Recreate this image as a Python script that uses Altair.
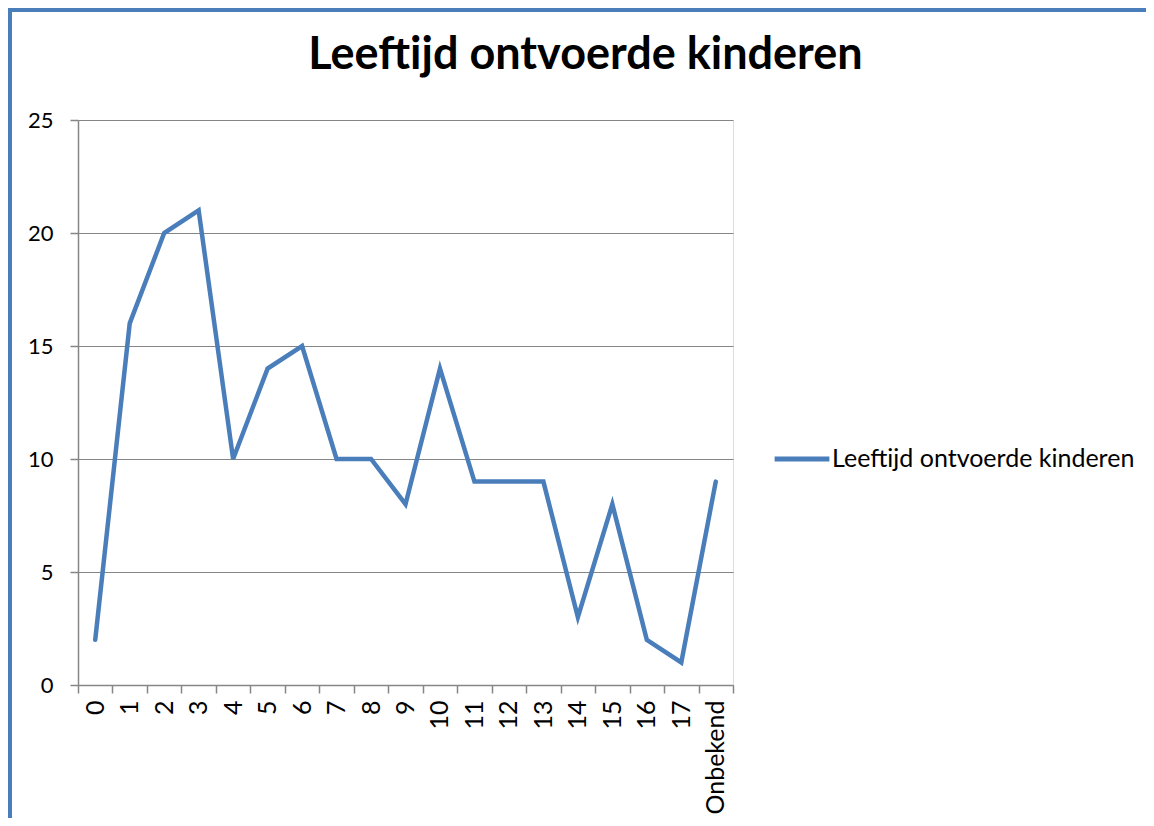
import altair as alt
import pandas as pd

categories = ["0", "1", "2", "3", "4", "5", "6", "7", "8", "9", "10", "11", "12", "13", "14", "15", "16", "17", "Onbekend"]
values = [2, 16, 20, 21, 10, 14, 15, 10, 10, 8, 14, 9, 9, 9, 3, 8, 2, 1, 9]
series_name = "Leeftijd ontvoerde kinderen"
title_text = "Leeftijd ontvoerde kinderen"
y_ticks = [0, 5, 10, 15, 20, 25]

df = pd.DataFrame({"cat": categories, "val": values, "series": [series_name] * len(categories)})

FONT = "Lato"
W, H = 655, 565
PL, PT, PR, PB = 70, 112, 413, 133
BLUE = "#4a7ebb"
GRAY = "#868686"

line = alt.Chart(df).mark_line(strokeWidth=4.5, strokeCap="round", strokeJoin="miter").encode(
    x=alt.X("cat:N", sort=categories, title=None,
            scale=alt.Scale(paddingInner=0, paddingOuter=0),
            axis=alt.Axis(labelAngle=270, labelAlign="right", labelBaseline="middle",
                          labelFontSize=25, labelFont=FONT, labelColor="black",
                          labelPadding=7, tickBand="extent", tickSize=8,
                          tickColor=GRAY, domainColor=GRAY, domainWidth=1.5, tickWidth=1.5,
                          grid=False, labelOverlap=False)),
    y=alt.Y("val:Q", title=None,
            scale=alt.Scale(domain=[0, 25], nice=False),
            axis=alt.Axis(values=y_ticks, labelFontSize=22, labelFont=FONT, labelColor="black",
                          labelPadding=17, tickSize=8, tickColor=GRAY, domainColor=GRAY,
                          domainWidth=1.5, tickWidth=1.5,
                          grid=True, gridColor=GRAY, gridWidth=1.2)),
    color=alt.Color("series:N", scale=alt.Scale(range=[BLUE]), title=None,
                    legend=alt.Legend(orient="none", legendX=694, legendY=309,
                                      symbolType="stroke", symbolSize=3000, symbolStrokeWidth=5,
                                      labelFontSize=25, labelFont=FONT, labelColor="black",
                                      labelOffset=0, labelLimit=0, padding=0)),
)

frame_left = alt.Chart(df).mark_rule(color=BLUE, strokeWidth=4).encode(
    x=alt.value(-PL + 1.5), y=alt.value(-PT), y2=alt.value(H + PB)
)
frame_top = alt.Chart(df).mark_rule(color=BLUE, strokeWidth=4).encode(
    x=alt.value(-PL), x2=alt.value(W + PR), y=alt.value(-PT + 1.5)
)

chart = alt.layer(frame_left, frame_top, line).properties(
    width=W, height=H,
    autosize=alt.AutoSizeParams(type="none"),
    padding={"left": PL, "top": PT, "right": PR, "bottom": PB},
    title=alt.TitleParams(title_text, fontSize=45, fontWeight="bold", font=FONT, color="black",
                          anchor="middle", baseline="alphabetic", dx=180, dy=108, offset=0),
).configure_view(stroke=None).configure(background="white")

chart.save("out.html", embed_options={"renderer": "svg", "actions": False})
